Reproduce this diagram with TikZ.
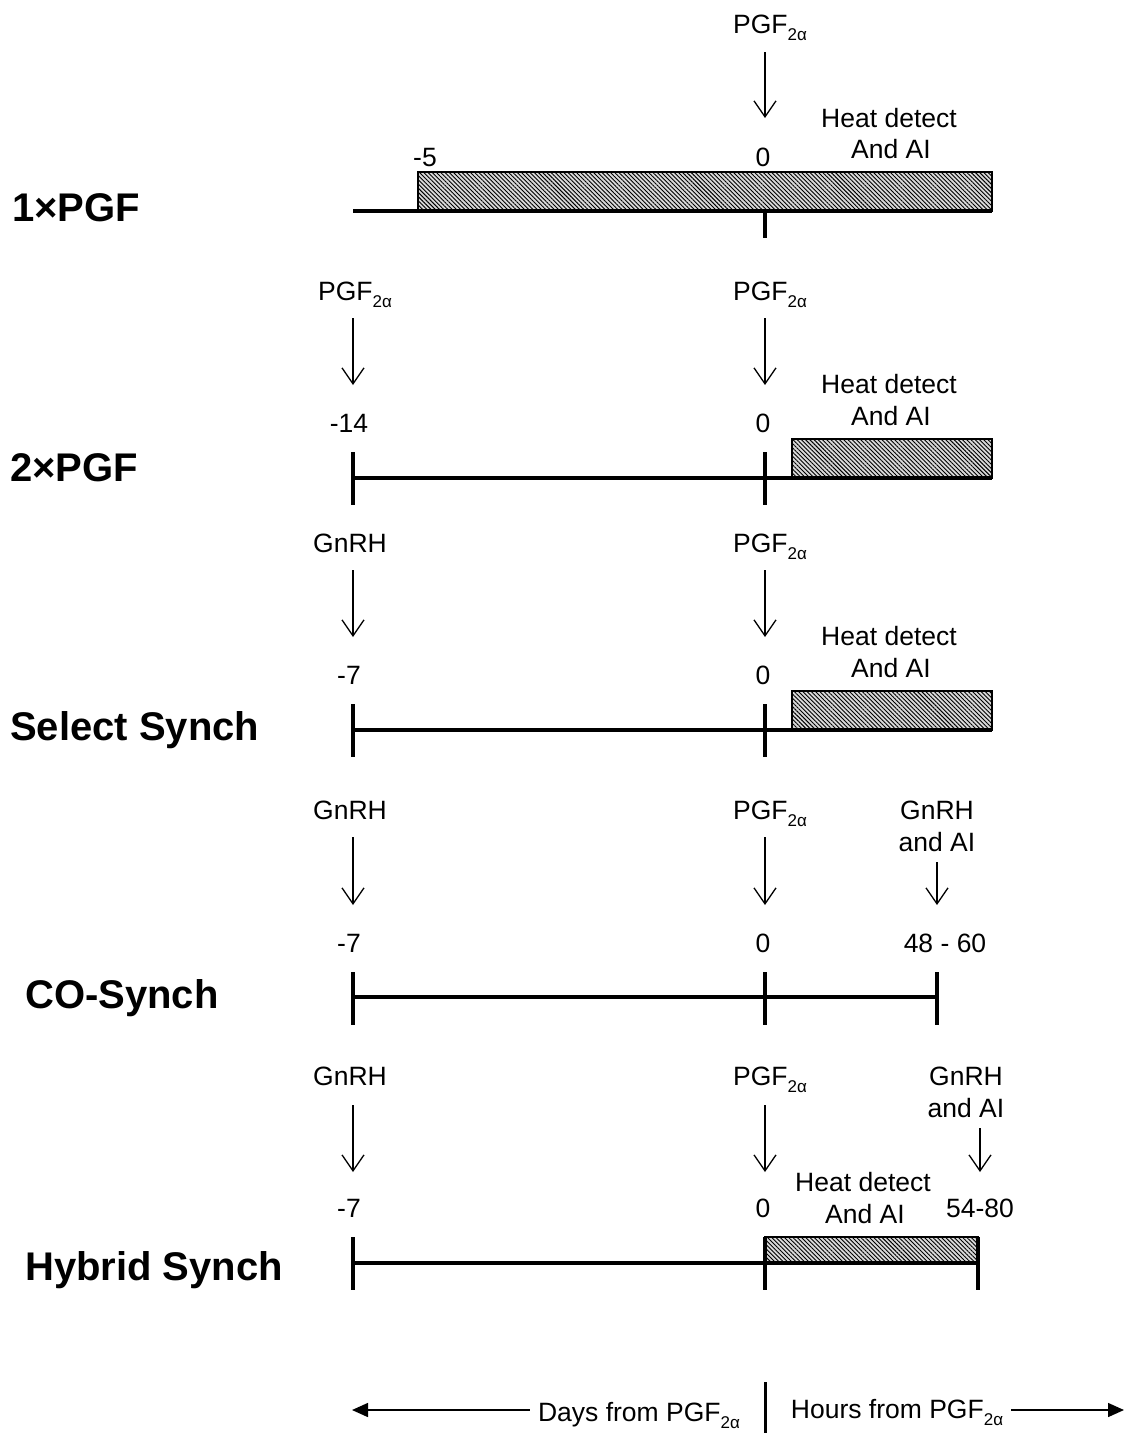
\documentclass[tikz,border=0pt]{standalone}
\usepackage{fontspec}
\setmainfont{Liberation Sans}
\usetikzlibrary{arrows.meta,patterns.meta}
\newcommand\subtx[1]{\raisebox{-7pt}{\fontsize{17}{17}\selectfont #1}}
\newcommand\pgfa{PGF\subtx{2α}}
\begin{document}
\begin{tikzpicture}[x=1pt,y=-1pt,
  txt/.style={anchor=base,inner sep=0pt,font=\fontsize{26.5}{30}\selectfont},
  ttl/.style={anchor=base west,inner sep=0pt,font=\fontsize{40}{42}\selectfont\bfseries},
  darr/.style={line width=1.3pt,-{Straight Barb[length=16pt,width=22pt,line width=1.3pt]}},
  tline/.style={line width=4pt},
  hbox/.style={draw,line width=1.5pt,preaction={fill=gray!30},
     pattern={Lines[angle=-45,distance=3pt,line width=0.9pt]}},
  barr/.style={line width=1.5pt,-{Triangle[length=16pt,width=14pt]}}]
\useasboundingbox (0,0) rectangle (1124,1433);

% ---------- Row 1: 1xPGF ----------
\node[ttl] (t1) at (12,221) {1×PGF};
\node[txt] (p1) at (770,33) {\pgfa};
\coordinate (p1s) at (765,52); \coordinate (p1e) at (765,118);
\draw[darr] (p1s) -- (p1e);
\node[txt] (h1a) at (889,127) {Heat detect};
\node[txt] (h1b) at (891,158) {And AI};
\node[txt] (n1a) at (425,166) {-5};
\node[txt] (n1b) at (763,166) {0};
\draw[hbox] (418,172) rectangle (992,211);
\coordinate (l1s) at (353,211); \coordinate (l1e) at (992,211);
\draw[tline] (l1s) -- (l1e);
\coordinate (k1s) at (765,211); \coordinate (k1e) at (765,238);
\draw[tline] (k1s) -- (k1e);

% ---------- Row 2: 2xPGF ----------
\node[ttl] (t2) at (10,481) {2×PGF};
\node[txt] (p2a) at (355,300) {\pgfa};
\node[txt] (p2b) at (770,300) {\pgfa};
\coordinate (a2s) at (353,318); \coordinate (a2e) at (353,385);
\draw[darr] (a2s) -- (a2e);
\coordinate (b2s) at (765,318); \coordinate (b2e) at (765,385);
\draw[darr] (b2s) -- (b2e);
\node[txt] (h2a) at (889,393) {Heat detect};
\node[txt] (h2b) at (891,425) {And AI};
\node[txt] (n2a) at (349,432) {-14};
\node[txt] (n2b) at (763,432) {0};
\draw[hbox] (792,439) rectangle (992,478);
\coordinate (l2s) at (353,478); \coordinate (l2e) at (992,478);
\draw[tline] (l2s) -- (l2e);
\coordinate (k2as) at (353,452); \coordinate (k2ae) at (353,505);
\draw[tline] (k2as) -- (k2ae);
\coordinate (k2bs) at (765,452); \coordinate (k2be) at (765,505);
\draw[tline] (k2bs) -- (k2be);

% ---------- Row 3: Select Synch ----------
\node[ttl] (t3) at (10,740) {Select Synch};
\node[txt] (g3) at (350,552) {GnRH};
\node[txt] (p3) at (770,552) {\pgfa};
\coordinate (a3s) at (353,570); \coordinate (a3e) at (353,637);
\draw[darr] (a3s) -- (a3e);
\coordinate (b3s) at (765,570); \coordinate (b3e) at (765,637);
\draw[darr] (b3s) -- (b3e);
\node[txt] (h3a) at (889,645) {Heat detect};
\node[txt] (h3b) at (891,677) {And AI};
\node[txt] (n3a) at (349,684) {-7};
\node[txt] (n3b) at (763,684) {0};
\draw[hbox] (792,691) rectangle (992,730);
\coordinate (l3s) at (353,730); \coordinate (l3e) at (992,730);
\draw[tline] (l3s) -- (l3e);
\coordinate (k3as) at (353,704); \coordinate (k3ae) at (353,757);
\draw[tline] (k3as) -- (k3ae);
\coordinate (k3bs) at (765,704); \coordinate (k3be) at (765,757);
\draw[tline] (k3bs) -- (k3be);

% ---------- Row 4: CO-Synch ----------
\node[ttl] (t4) at (25,1008) {CO-Synch};
\node[txt] (g4) at (350,819) {GnRH};
\node[txt] (p4) at (770,819) {\pgfa};
\node[txt] (g4r) at (937,819) {GnRH};
\node[txt] (g4s) at (937,851) {and AI};
\coordinate (a4s) at (353,837); \coordinate (a4e) at (353,905);
\draw[darr] (a4s) -- (a4e);
\coordinate (b4s) at (765,837); \coordinate (b4e) at (765,905);
\draw[darr] (b4s) -- (b4e);
\coordinate (c4s) at (937,862); \coordinate (c4e) at (937,905);
\draw[darr] (c4s) -- (c4e);
\node[txt] (n4a) at (349,952) {-7};
\node[txt] (n4b) at (763,952) {0};
\node[txt] (n4c) at (945,952) {48 - 60};
\coordinate (l4s) at (353,997); \coordinate (l4e) at (937,997);
\draw[tline] (l4s) -- (l4e);
\coordinate (k4as) at (353,972); \coordinate (k4ae) at (353,1025);
\draw[tline] (k4as) -- (k4ae);
\coordinate (k4bs) at (765,972); \coordinate (k4be) at (765,1025);
\draw[tline] (k4bs) -- (k4be);
\coordinate (k4cs) at (937,972); \coordinate (k4ce) at (937,1025);
\draw[tline] (k4cs) -- (k4ce);

% ---------- Row 5: Hybrid Synch ----------
\node[ttl] (t5) at (25,1280) {Hybrid Synch};
\node[txt] (g5) at (350,1085) {GnRH};
\node[txt] (p5) at (770,1085) {\pgfa};
\node[txt] (g5r) at (966,1085) {GnRH};
\node[txt] (g5s) at (966,1117) {and AI};
\coordinate (a5s) at (353,1105); \coordinate (a5e) at (353,1172);
\draw[darr] (a5s) -- (a5e);
\coordinate (b5s) at (765,1105); \coordinate (b5e) at (765,1172);
\draw[darr] (b5s) -- (b5e);
\coordinate (c5s) at (980,1128); \coordinate (c5e) at (980,1172);
\draw[darr] (c5s) -- (c5e);
\node[txt] (n5a) at (349,1217) {-7};
\node[txt] (n5b) at (763,1217) {0};
\node[txt] (n5c) at (980,1217) {54-80};
\node[txt] (h5a) at (863,1191) {Heat detect};
\node[txt] (h5b) at (865,1223) {And AI};
\draw[hbox] (765,1237) rectangle (978,1263);
\coordinate (l5s) at (353,1263); \coordinate (l5e) at (978,1263);
\draw[tline] (l5s) -- (l5e);
\coordinate (k5as) at (353,1237); \coordinate (k5ae) at (353,1290);
\draw[tline] (k5as) -- (k5ae);
\coordinate (k5bs) at (765,1237); \coordinate (k5be) at (765,1290);
\draw[tline] (k5bs) -- (k5be);
\coordinate (k5cs) at (978,1237); \coordinate (k5ce) at (978,1290);
\draw[tline] (k5cs) -- (k5ce);

% ---------- Bottom axis ----------
\node[txt] (days) at (639,1421) {Days from \pgfa};
\node[txt] (hours) at (897,1418) {Hours from \pgfa};
\coordinate (dl) at (352,1410);
\coordinate (hr) at (1124,1410);
\draw[barr] (days.west |- dl) ++(-8,0) coordinate (dstart) -- (dl);
\draw[barr] (hours.east |- hr) ++(8,0) coordinate (hstart) -- (hr);
\coordinate (vs) at (765,1382); \coordinate (ve) at (765,1433);
\draw[line width=3pt] (vs) -- (ve);
\end{tikzpicture}
\end{document}
